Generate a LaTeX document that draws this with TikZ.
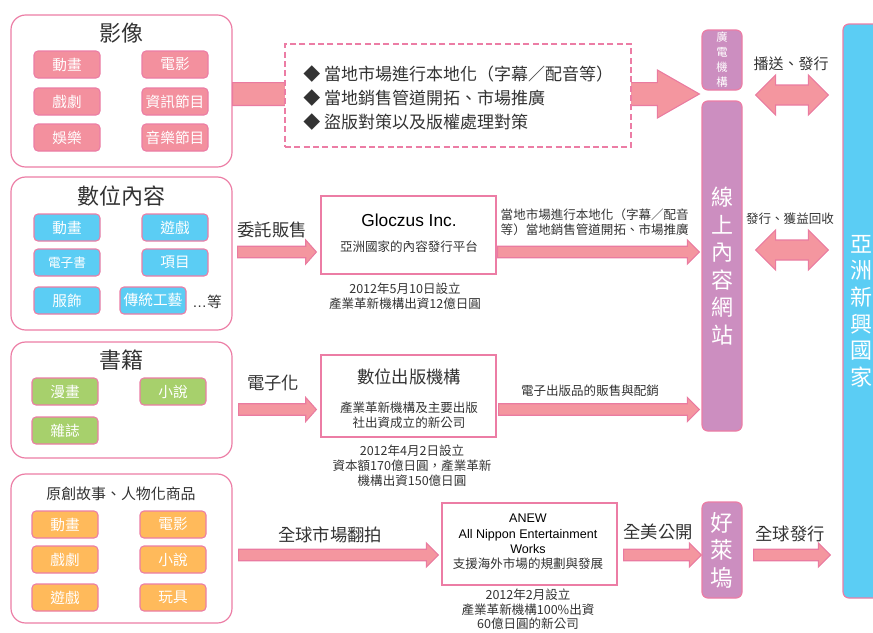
\documentclass[tikz,border=0pt]{standalone}
\usepackage{fontspec}
\setmainfont{Noto Sans CJK TC}
\newfontfamily\latinfont{Liberation Sans}
\usetikzlibrary{positioning,calc}
\definecolor{ccborder}{HTML}{EC7DA5}
\definecolor{ccarrow}{HTML}{F4969F}
\definecolor{ccarrowline}{HTML}{EA7BA0}
\definecolor{ccpink}{HTML}{F3909E}
\definecolor{ccblue}{HTML}{5BCDF4}
\definecolor{ccgreen}{HTML}{A7D06C}
\definecolor{ccorange}{HTML}{FFBA5B}
\definecolor{ccpurple}{HTML}{CC8EC0}
\definecolor{cctext}{HTML}{333333}
\newcommand{\fsz}[2]{\fontsize{#1}{#2}\selectfont}

% block arrow: start, end, half body, half head, head length
\newcommand{\blockarrow}[5]{%
  \draw[flowarrow] let \p1=(#1), \p2=(#2) in
    (\x1,\y1+#3) -- (\x2-#5,\y1+#3) -- (\x2-#5,\y1+#4) -- (\x2,\y1)
    -- (\x2-#5,\y1-#4) -- (\x2-#5,\y1-#3) -- (\x1,\y1-#3) -- cycle;}
% double block arrow: start, end, half body, half head, head length
\newcommand{\duoarrow}[5]{%
  \draw[flowarrow] let \p1=(#1), \p2=(#2) in
    (\x1,\y1) -- (\x1+#5,\y1+#4) -- (\x1+#5,\y1+#3) -- (\x2-#5,\y1+#3)
    -- (\x2-#5,\y1+#4) -- (\x2,\y1) -- (\x2-#5,\y1-#4) -- (\x2-#5,\y1-#3)
    -- (\x1+#5,\y1-#3) -- (\x1+#5,\y1-#4) -- cycle;}

\begin{document}
\begin{tikzpicture}[
  x=0.75pt, y=-0.75pt,
  group/.style={draw=ccborder, line width=0.9pt, fill=white, rounded corners=11pt,
    minimum width=165.75pt},
  item/.style={draw=ccborder, line width=0.8pt, rounded corners=3pt, minimum width=49.5pt,
    minimum height=20.25pt, inner sep=0pt, text=white, font=\fsz{11}{13}},
  title/.style={text=cctext, font=\fsz{16.5}{20}},
  label/.style={text=cctext, font=\fsz{13}{15}},
  note/.style={text=cctext, align=center, font=\fsz{9.4}{11.25}},
  orgbox/.style={draw=ccborder, line width=0.9pt, fill=white, minimum width=131.25pt,
    minimum height=61.5pt},
  sitebox/.style={draw=ccborder, line width=0.9pt, fill=ccpurple, rounded corners=4.5pt,
    minimum width=30pt, text=white, align=center, inner sep=0pt},
  flowarrow/.style={draw=ccarrowline, fill=ccarrow, line width=0.8pt}
]
  \useasboundingbox (0,0) rectangle (873,632);

  % Arrow rows
  \coordinate (row1) at (0,94);
  \coordinate (row2) at (0,252);
  \coordinate (row3) at (0,409.5);
  \coordinate (row4) at (0,555);
  \coordinate (duo1) at (0,95);
  \coordinate (duo2) at (0,250);

  % Right side
  \node[sitebox, minimum height=45pt, font=\fsz{8.5}{11.25}] (broadcast) at (722,60)
    {廣\\電\\機\\構};
  \node[sitebox, minimum height=247.5pt, font=\fsz{16.5}{20.6}] (online) at (722,266)
    {線\\上\\內\\容\\網\\站};
  \node[sitebox, minimum height=72pt, font=\fsz{17}{20.6}] (hollywood) at (722,550)
    {好\\萊\\塢};
  \node[draw=ccborder, line width=0.9pt, fill=ccblue, rounded corners=4.5pt,
    minimum width=31.5pt, minimum height=430.5pt] (asia) at (864,311) {};
  \node[text=white, align=center, inner sep=0pt, font=\fsz{16.5}{20}] at (861,311)
    {亞\\洲\\新\\興\\國\\家};

  % Groups
  \node[group, minimum height=114pt] (video) at (121.5,91) {};
  \node[group, minimum height=114.75pt] (digital) at (121.5,253.5) {};
  \node[group, minimum height=87pt] (books) at (121.5,400) {};
  \node[group, minimum height=111.75pt] (original) at (121.5,548.5) {};

  % Video
  \blockarrow{video.east |- row1}{$(online.west |- row1)+(-2,0)$}{8.6pt}{18pt}{31.5pt}
  \node[draw=ccborder, dash pattern=on 4.5pt off 2.5pt, line width=0.9pt, fill=white,
    minimum width=259.5pt, minimum height=77.25pt] (tasks) at (458,95.5) {};
  \node[anchor=west, align=left, inner sep=0pt, text=cctext, font=\fsz{12.75}{18}]
    (tasklist) at (303,98)
    {◆ 當地市場進行本地化（字幕／配音等）\\◆ 當地銷售管道開拓、市場推廣\\◆ 盜版對策以及版權處理對策};
  \node[title] at (121,33) {影像};
  \node[item, fill=ccpink] (v1) at (67,64.5) {動畫};
  \node[item, fill=ccpink] (v2) at (175,64.5) {電影};
  \node[item, fill=ccpink] (v3) at (67,101.5) {戲劇};
  \node[item, fill=ccpink] (v4) at (175,101.5) {資訊節目};
  \node[item, fill=ccpink] (v5) at (67,137.5) {娛樂};
  \node[item, fill=ccpink] (v6) at (175,137.5) {音樂節目};

  % Digital content
  \node[title] at (121,196) {數位內容};
  \node[item, fill=ccblue] (d1) at (67,227.5) {動畫};
  \node[item, fill=ccblue] (d2) at (175,227.5) {遊戲};
  \node[item, fill=ccblue, font=\fsz{9.5}{11}] (d3) at (67,262.5) {電子書};
  \node[item, fill=ccblue] (d4) at (175,262.5) {項目};
  \node[item, fill=ccblue] (d5) at (67,300.5) {服飾};
  \node[item, fill=ccblue] (d6) at (153,300.5) {傳統工藝};
  \node[text=cctext, font=\fsz{11}{13}] at (207,302) {{\latinfont …}等};

  \node[orgbox, minimum height=58.5pt] (gloczus) at (408.5,235) {};
  \node[text=black, font=\latinfont\fsz{13}{15}] at (409,220) {Gloczus Inc.};
  \node[note] at (409,247) {亞洲國家的內容發行平台};
  \node[note] at (405,296.5) {2012年5月10日設立\\產業革新機構出資12億日圓};

  \blockarrow{$(digital.east |- row2)+(5,0)$}{$(gloczus.west |- row2)+(-4,0)$}{4.3pt}{9pt}{8pt}
  \node[label] at (272,230) {委託販售};
  \blockarrow{$(gloczus.east |- row2)+(1,0)$}{$(online.west |- row2)+(-2,0)$}{4.3pt}{9pt}{9pt}
  \node[note, align=left, anchor=west] at (496,222.5)
    {當地市場進行本地化（字幕／配音\\等）當地銷售管道開拓、市場推廣};

  % Books
  \node[title] at (121,360) {書籍};
  \node[item, fill=ccgreen] (b1) at (65,391.5) {漫畫};
  \node[item, fill=ccgreen] (b2) at (173,391.5) {小說};
  \node[item, fill=ccgreen] (b3) at (65,430.5) {雜誌};

  \node[orgbox] (publisher) at (408.5,396) {};
  \node[text=cctext, font=\fsz{13}{15}] at (409,377) {數位出版機構};
  \node[note] at (409,415.5) {產業革新機構及主要出版\\社出資成立的新公司};
  \node[note] at (412,466) {2012年4月2日設立\\資本額170億日圓，產業革新\\機構出資150億日圓};

  \blockarrow{$(books.east |- row3)+(6,0)$}{$(publisher.west |- row3)+(-4,0)$}{4.3pt}{9pt}{8pt}
  \node[label] at (273,383) {電子化};
  \blockarrow{$(publisher.east |- row3)+(2,0)$}{$(online.west |- row3)+(-2,0)$}{4.3pt}{9pt}{9pt}
  \node[note] at (590,391) {電子出版品的販售與配銷};

  % Original stories
  \node[text=cctext, font=\fsz{11.2}{13}] at (121,494) {原創故事、人物化商品};
  \node[item, fill=ccorange] (o1) at (65,524.5) {動畫};
  \node[item, fill=ccorange] (o2) at (173,524.5) {電影};
  \node[item, fill=ccorange] (o3) at (65,559.5) {戲劇};
  \node[item, fill=ccorange] (o4) at (173,559.5) {小說};
  \node[item, fill=ccorange] (o5) at (65,597.5) {遊戲};
  \node[item, fill=ccorange] (o6) at (173,597.5) {玩具};

  \node[orgbox] (anew) at (529.5,544) {};
  \node[note, text=black, font=\fsz{9.4}{11.5}] at (528,542)
    {{\latinfont ANEW}\\{\latinfont All Nippon Entertainment}\\{\latinfont Works}\\
     {\color{cctext}支援海外市場的規劃與發展}};
  \node[note, font=\fsz{9.4}{11}] at (528,609.5) {2012年2月設立\\產業革新機構100\%出資\\60億日圓的新公司};

  \blockarrow{$(original.east |- row4)+(6,0)$}{$(anew.west |- row4)+(-3,0)$}{4.3pt}{9pt}{9pt}
  \node[label] at (330,535) {全球市場翻拍};
  \blockarrow{$(anew.east |- row4)+(6,0)$}{hollywood.west |- row4}{4.3pt}{9pt}{9pt}
  \node[label] at (658,532) {全美公開};
  \blockarrow{$(hollywood.east |- row4)+(11,0)$}{$(asia.west |- row4)+(-12,0)$}{4.3pt}{9pt}{9pt}
  \node[label] at (790,534) {全球發行};

  % Two-way arrows
  \duoarrow{$(broadcast.east |- duo1)+(13,0)$}{$(asia.west |- duo1)+(-14,0)$}{7.5pt}{15pt}{15pt}
  \node[text=cctext, font=\fsz{11.25}{13}] at (791,64) {播送、發行};
  \duoarrow{$(online.east |- duo2)+(13,0)$}{$(asia.west |- duo2)+(-14,0)$}{7.5pt}{15pt}{15pt}
  \node[note] at (790,219) {發行、獲益回收};
\end{tikzpicture}
\end{document}
